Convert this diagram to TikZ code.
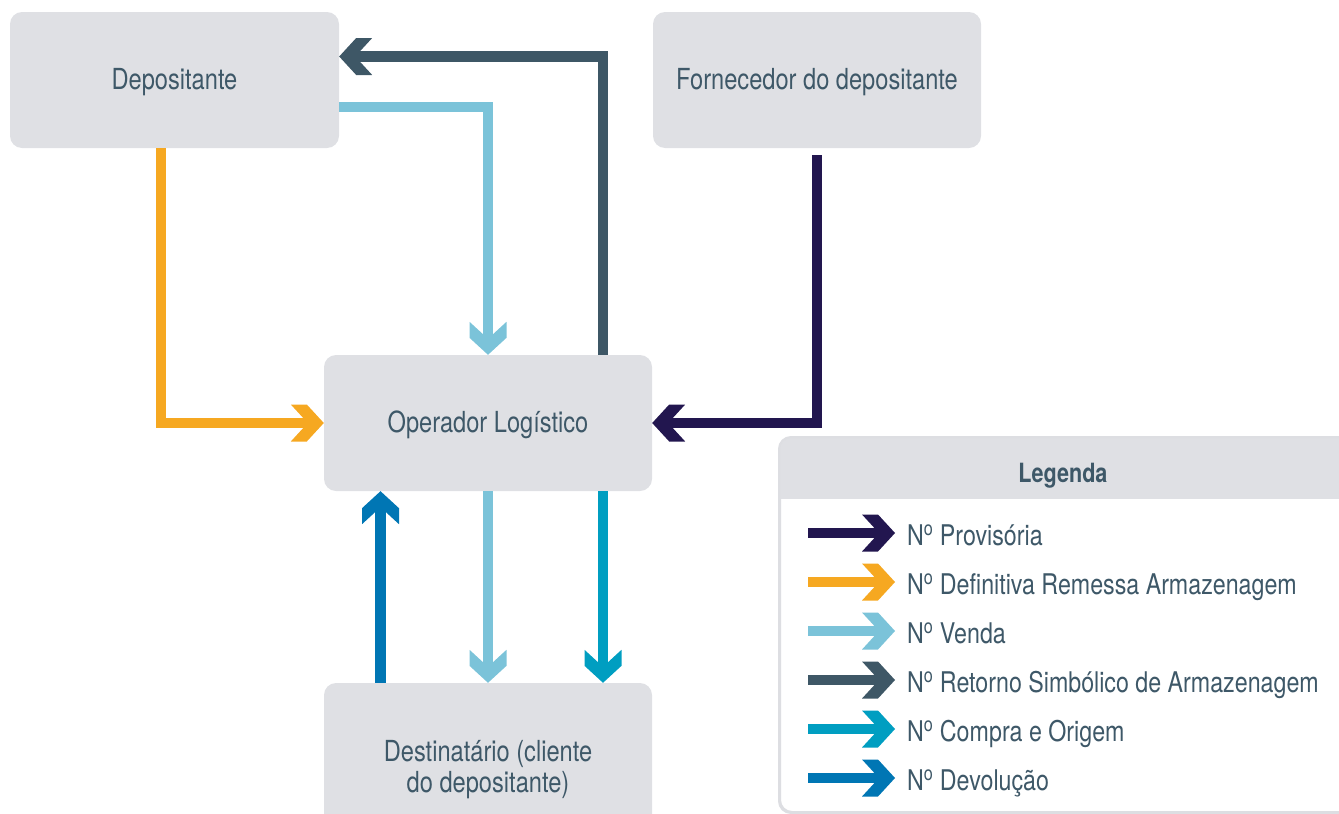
\documentclass[tikz,border=0pt]{standalone}
\usepackage{fontspec}
\setmainfont{TeX Gyre Heros}[FakeStretch=0.815]
\usetikzlibrary{arrows.meta}
\definecolor{boxgray}{HTML}{DFE0E4}
\definecolor{txt}{HTML}{3E5868}
\definecolor{cnavy}{HTML}{22164F}
\definecolor{corange}{HTML}{F6A821}
\definecolor{clight}{HTML}{7BC3D9}
\definecolor{cslate}{HTML}{3E5766}
\definecolor{cteal}{HTML}{009EC1}
\definecolor{cblue}{HTML}{0076B4}
\definecolor{legborder}{HTML}{DDDEE2}
\pgfdeclarearrow{
  name = Chev,
  setup code = {
    \pgfarrowssettipend{0pt}
    \pgfarrowssetlineend{-16pt}
    \pgfarrowssetbackend{-33pt}
    \pgfarrowshullpoint{0pt}{0pt}
    \pgfarrowshullpoint{-33pt}{18.5pt}
    \pgfarrowshullpoint{-33pt}{-18.5pt}
  },
  drawing code = {
    \pgfpathmoveto{\pgfqpoint{0pt}{0pt}}
    \pgfpathlineto{\pgfqpoint{-17pt}{18.5pt}}
    \pgfpathlineto{\pgfqpoint{-33pt}{18.5pt}}
    \pgfpathlineto{\pgfqpoint{-16pt}{0pt}}
    \pgfpathlineto{\pgfqpoint{-33pt}{-18.5pt}}
    \pgfpathlineto{\pgfqpoint{-17pt}{-18.5pt}}
    \pgfpathclose
    \pgfusepathqfill
  }
}
\tikzset{
  box/.style={fill=boxgray, rounded corners=12pt, text=txt, inner sep=0pt,
    font=\fontsize{29}{30}\selectfont, align=center},
  onebox/.style={box, text height=21pt, text depth=3pt},
  flow/.style={line width=10.5pt, -Chev},
  legtext/.style={anchor=base west, text=txt, inner sep=0pt,
    font=\fontsize{28.5}{30}\selectfont},
}
\begin{document}
\begin{tikzpicture}[x=1pt, y=-1pt]
\useasboundingbox (0,0) rectangle (1339,814);
\clip (0,0) rectangle (1339,814);
% boxes
\node[onebox, minimum width=329pt, minimum height=136pt] (dep) at (174.5,80) {Depositante};
\node[onebox, minimum width=328pt, minimum height=136pt] (forn) at (817,80) {Fornecedor do depositante};
\node[onebox, minimum width=328pt, minimum height=136pt] (op) at (488,423) {Operador Logístico};
\node[box, minimum width=328pt, minimum height=174pt] (dest) at (488,770) {Destinatário (cliente\\[1pt]do depositante)};
% flows
\draw[flow, color=corange] ([xshift=-13.5pt]dep.south) |- (op.west);
\draw[flow, color=clight] ([yshift=-27pt]dep.east) -| (op.north);
\draw[flow, color=cslate] ([xshift=115pt]op.north) |- ([yshift=23.5pt]dep.east);
\draw[flow, color=cnavy] ([yshift=-7pt]forn.south) |- (op.east);
\draw[flow, color=clight] (op.south) -- (op.south |- dest.north);
\draw[flow, color=cteal] ([xshift=115pt]op.south) -- ([xshift=115pt]dest.north);
\draw[flow, color=cblue] ([xshift=-107.5pt]dest.north) -- ([xshift=-107.5pt]op.south);
% legend
\node[draw=legborder, line width=2pt, fill=white, rounded corners=12pt,
  minimum width=580pt, minimum height=374pt, inner sep=0pt] (leg) at (1070,625) {};
\begin{scope}
  \clip[rounded corners=12pt] (leg.south west) rectangle (leg.north east);
  \fill[boxgray] (leg.north west) rectangle ([yshift=-62pt]leg.north east);
\end{scope}
\draw[legborder, line width=2pt, rounded corners=12pt] (leg.south west) rectangle (leg.north east);
\node[text=txt, font=\bfseries\fontsize{26.5}{28}\selectfont, inner sep=0pt, anchor=base] (legtitle) at (1063,482) {Legenda};
\foreach \i/\c/\t in {0/cnavy/Provisória, 1/corange/Definitiva Remessa Armazenagem, 2/clight/Venda, 3/cslate/Retorno Simbólico de Armazenagem, 4/cteal/Compra e Origem, 5/cblue/Devolução}{
  \coordinate (ls\i) at (808,533+49*\i);
  \coordinate (le\i) at (895,533+49*\i);
  \draw[flow, color=\c] (ls\i) -- (le\i);
  \node[legtext] (lt\i) at (907,545+49*\i) {N\textsuperscript{o} \t};
}
\end{tikzpicture}
\end{document}
